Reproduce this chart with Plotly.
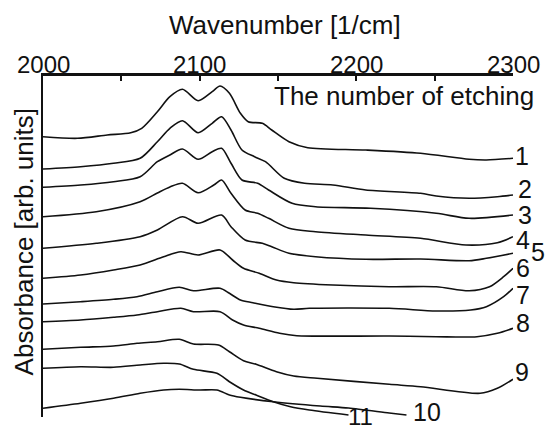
import plotly.graph_objects as go

# Wavenumber [1/cm] and absorbance [arb. units]
wn_1 = [2000, 2022, 2041, 2056, 2063, 2073, 2081, 2089, 2099, 2108, 2113, 2119, 2126, 2131, 2140, 2146, 2157, 2169, 2206, 2241, 2272, 2283, 2300]
ab_1 = [280.3, 278.7, 282, 284.3, 288.7, 305.3, 320.3, 327.7, 316.3, 325.3, 331, 323.7, 303.7, 295.3, 293.7, 287, 275.3, 269.3, 267, 263.7, 257.7, 257, 258.7]

wn_2 = [2000, 2024, 2045, 2062, 2073, 2081, 2089, 2099, 2108, 2114, 2120, 2127, 2135, 2142, 2154, 2167, 2185, 2206, 2241, 2251, 2272, 2290, 2300]
ab_2 = [248, 250.3, 253.7, 258.7, 275.3, 288.7, 296.3, 284.3, 293.7, 300.3, 287, 267, 260.3, 255.3, 238.7, 233.7, 232, 227, 223.7, 221, 218.7, 220.3, 222]

wn_3 = [2000, 2024, 2045, 2062, 2073, 2081, 2089, 2099, 2108, 2114, 2120, 2127, 2137, 2144, 2159, 2174, 2209, 2251, 2272, 2300]
ab_3 = [229.7, 232, 235.3, 240.3, 255.3, 262, 268, 257.7, 265.3, 268.7, 253.7, 237, 233.7, 227, 213.7, 210.3, 208.7, 203.7, 198.7, 202]

wn_4 = [2000, 2034, 2062, 2073, 2081, 2089, 2099, 2109, 2114, 2120, 2129, 2137, 2144, 2157, 2174, 2206, 2241, 2270, 2290, 2300]
ab_4 = [200.3, 205.3, 215.3, 224, 230, 233.7, 224.3, 232, 237, 223.7, 207, 203.7, 198.7, 188.7, 185.3, 182, 178.7, 172, 174.3, 180.3]

wn_5 = [2000, 2034, 2062, 2073, 2089, 2099, 2114, 2120, 2129, 2140, 2146, 2157, 2174, 2206, 2241, 2272, 2283, 2300]
ab_5 = [168.7, 173.7, 180.3, 187, 200.3, 193.7, 202, 190.3, 177, 173.7, 170.3, 163.7, 160.3, 157.7, 158, 156.3, 158.7, 163.7]

wn_6 = [2000, 2024, 2045, 2062, 2077, 2088, 2099, 2113, 2121, 2128, 2138, 2149, 2160, 2185, 2221, 2251, 2272, 2285, 2294, 2300]
ab_6 = [138.7, 142, 147, 152, 160.3, 165.3, 162, 167, 157, 148.7, 143.7, 137, 134.3, 132, 130.3, 130.3, 126.3, 130.3, 140.3, 148.7]

wn_7 = [2000, 2024, 2045, 2060, 2073, 2087, 2096, 2113, 2119, 2126, 2134, 2147, 2160, 2170, 2221, 2251, 2273, 2283, 2294, 2300]
ab_7 = [113, 115.3, 117.7, 120.3, 125.3, 129.7, 126.3, 128.7, 123.7, 117, 114.3, 110.3, 107.7, 108.7, 108.7, 106, 107, 110.3, 120.3, 128.7]

wn_8 = [2000, 2024, 2045, 2060, 2073, 2088, 2096, 2113, 2121, 2128, 2138, 2151, 2162, 2221, 2251, 2277, 2290, 2300]
ab_8 = [95.3, 97, 99.7, 102, 105.3, 108.7, 105.3, 105.3, 97, 92, 88.7, 83.7, 81.3, 81, 80.3, 80.3, 83.7, 88.7]

wn_9 = [2000, 2024, 2045, 2060, 2073, 2087, 2096, 2112, 2119, 2128, 2136, 2149, 2160, 2175, 2221, 2241, 2279, 2290, 2300]
ab_9 = [67.7, 69.7, 71, 73.7, 75.3, 77.7, 73, 72, 65.3, 56.3, 52.7, 45.3, 41, 38.7, 32.7, 30.3, 23.7, 28.7, 37.7]

wn_10 = [2000, 2024, 2045, 2062, 2077, 2087, 2100, 2111, 2119, 2126, 2147, 2177, 2195, 2221, 2232]
ab_10 = [8.7, 13.7, 18.7, 23.7, 27, 27.7, 27, 27, 22, 19.7, 15.3, 11, 9, 4, 2]

wn_11 = [2000, 2024, 2045, 2062, 2077, 2087, 2096, 2111, 2119, 2128, 2136, 2147, 2158, 2170, 2195]
ab_11 = [48.7, 50.3, 49.7, 52, 53.7, 53, 47.7, 43.7, 35.3, 27, 22, 15.3, 10.3, 7, 2]

series = [
    ("1", wn_1, ab_1), ("2", wn_2, ab_2), ("3", wn_3, ab_3), ("4", wn_4, ab_4),
    ("5", wn_5, ab_5), ("6", wn_6, ab_6), ("7", wn_7, ab_7), ("8", wn_8, ab_8),
    ("9", wn_9, ab_9), ("10", wn_10, ab_10), ("11", wn_11, ab_11),
]

X_RANGE = [2000, 2300]
Y_RANGE = [0, 342]

# curve labels: (text, wavenumber, absorbance) - placed next to curve ends
curve_labels = [
    ("1", 2305.7, 261), ("2", 2307.6, 228), ("3", 2307.6, 202), ("4", 2306.3, 177),
    ("5", 2315.9, 165), ("6", 2306.3, 149), ("7", 2306.3, 122), ("8", 2306.3, 94),
    ("9", 2305.7, 45), ("10", 2245, 5), ("11", 2202.9, 1),
]

tick_vals = [2000, 2100, 2200, 2300]
tick_text = ["2000", "2100", "2200", "2300"]

FONT = "Liberation Sans, Arial, sans-serif"
INK = "#111111"

fig = go.Figure()
for name, x, y in series:
    fig.add_trace(go.Scatter(
        x=x, y=y, mode="lines", name=name,
        line=dict(color=INK, width=1.6, shape="spline", smoothing=0.8),
        showlegend=False, hoverinfo="skip", cliponaxis=False,
    ))


def to_paper(x, y):
    return ((x - X_RANGE[0]) / (X_RANGE[1] - X_RANGE[0]),
            (y - Y_RANGE[0]) / (Y_RANGE[1] - Y_RANGE[0]))


annotations = []
for txt, x, y in curve_labels:
    px, py = to_paper(x, y)
    annotations.append(dict(x=px, y=py, xref="paper", yref="paper", text=txt, showarrow=False,
                            font=dict(family=FONT, size=24 if txt == "11" else 25, color=INK),
                            xanchor="center", yanchor="middle"))

# top tick labels drawn as annotations for exact placement
for v, t in zip(tick_vals, tick_text):
    px, _ = to_paper(v, 0)
    annotations.append(dict(x=px, y=1.032, xref="paper", yref="paper", text=t, showarrow=False,
                            font=dict(family=FONT, size=24, color=INK),
                            xanchor="center", yanchor="middle"))

annotations += [
    dict(x=0.515, y=1.146, xref="paper", yref="paper", text="Wavenumber [1/cm]",
         showarrow=False, font=dict(family=FONT, size=26, color=INK),
         xanchor="center", yanchor="middle"),
    dict(x=-0.0415, y=0.512, xref="paper", yref="paper", text="Absorbance [arb. units]",
         showarrow=False, textangle=-90, font=dict(family=FONT, size=26, color=INK),
         xanchor="center", yanchor="middle"),
    dict(x=0.768, y=0.9386, xref="paper", yref="paper", text="The number of etching",
         showarrow=False, font=dict(family=FONT, size=26, color=INK),
         xanchor="center", yanchor="middle"),
]

fig.update_layout(
    width=548, height=432,
    margin=dict(l=43, r=35, t=75, b=15, autoexpand=False),
    paper_bgcolor="white", plot_bgcolor="white",
    annotations=annotations,
    shapes=[dict(type="line", xref="paper", yref="paper", x0=0, x1=1, y0=1, y1=1,
                 line=dict(color=INK, width=1.8))],
    xaxis=dict(
        side="top", range=X_RANGE, showgrid=False, zeroline=False, automargin=False,
        showline=True, linecolor=INK, linewidth=1.8,
        ticks="inside", ticklen=6, tickwidth=1.5, tickcolor=INK,
        tickvals=tick_vals, showticklabels=False,
        minor=dict(ticks="inside", ticklen=6, tickwidth=1.5, tickcolor=INK, dtick=50, showgrid=False),
    ),
    yaxis=dict(
        range=Y_RANGE, showgrid=False, zeroline=False, automargin=False,
        showline=True, linecolor=INK, linewidth=1.6,
        showticklabels=False, ticks="",
    ),
)

# remove the default page margin so the 548x432 figure fills the window exactly
fig.write_html(
    "out.html",
    config={"displayModeBar": False},
    post_script="document.body.style.margin='0';document.documentElement.style.overflow='hidden';",
)
